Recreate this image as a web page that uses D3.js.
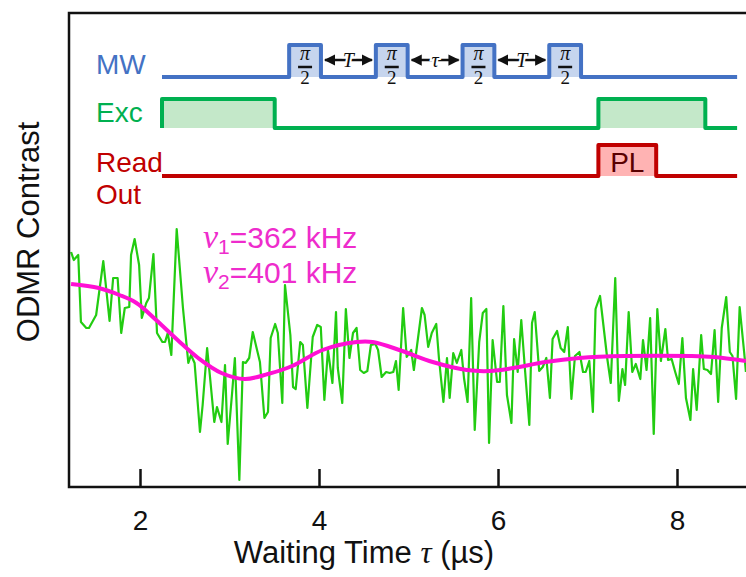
<!doctype html>
<html lang="en">
<head>
<meta charset="utf-8">
<title>Ramsey ODMR contrast</title>
<script src="https://cdn.jsdelivr.net/npm/d3@7"></script>
<style>
  body { margin: 0; background: #fff; }
  svg { display: block; font-family: "Liberation Sans", Arial, sans-serif; }
  .serif { font-family: "Liberation Serif", "DejaVu Serif", serif; }
</style>
</head>
<body>
<svg id="chart" width="746" height="577"></svg>
<script>
// measured trace (waiting time in µs, contrast in arb. units)
const waitTimes = [
  1.23, 1.26, 1.31, 1.34, 1.40, 1.43, 1.51, 1.59, 1.66, 1.70,
  1.75, 1.79, 1.83, 1.88, 1.90, 1.94, 1.99, 2.02, 2.07, 2.10,
  2.15, 2.19, 2.25, 2.28, 2.31, 2.35, 2.41, 2.48, 2.54, 2.57,
  2.61, 2.67, 2.70, 2.75, 2.78, 2.83, 2.86, 2.91, 2.95, 2.98,
  3.03, 3.06, 3.11, 3.15, 3.18, 3.22, 3.26, 3.34, 3.39, 3.43,
  3.46, 3.51, 3.54, 3.59, 3.62, 3.68, 3.71, 3.74, 3.79, 3.82,
  3.87, 3.93, 3.98, 4.02, 4.06, 4.10, 4.15, 4.19, 4.21, 4.26,
  4.30, 4.34, 4.38, 4.42, 4.46, 4.50, 4.54, 4.58, 4.63, 4.66,
  4.70, 4.75, 4.79, 4.83, 4.86, 4.89, 4.94, 4.98, 5.03, 5.06,
  5.15, 5.18, 5.22, 5.26, 5.31, 5.34, 5.39, 5.43, 5.46, 5.50,
  5.54, 5.59, 5.62, 5.66, 5.70, 5.74, 5.79, 5.83, 5.87, 5.90,
  5.94, 5.99, 6.02, 6.06, 6.10, 6.15, 6.18, 6.22, 6.26, 6.30,
  6.35, 6.38, 6.41, 6.46, 6.50, 6.54, 6.58, 6.61, 6.66, 6.70,
  6.74, 6.78, 6.82, 6.86, 6.91, 6.95, 6.98, 7.02, 7.06, 7.09,
  7.14, 7.22, 7.26, 7.31, 7.35, 7.39, 7.42, 7.46, 7.50, 7.54,
  7.59, 7.62, 7.66, 7.70, 7.74, 7.78, 7.82, 7.87, 7.90, 7.94,
  7.98, 8.02, 8.06, 8.10, 8.15, 8.18, 8.22, 8.27, 8.30, 8.34,
  8.38, 8.42, 8.46, 8.50, 8.55, 8.59, 8.62, 8.66, 8.70, 8.75,
  8.77
];
const contrast = [
  2.35, 2.27, 2.32, 1.65, 1.59, 1.59, 1.72, 2.26, 1.66, 2.09,
  2.09, 1.54, 1.79, 1.80, 2.32, 2.48, 2.22, 1.69, 1.84, 1.89,
  2.33, 1.54, 1.45, 1.45, 1.54, 1.32, 2.58, 1.79, 1.24, 1.32,
  1.24, 0.55, 0.82, 1.39, 1.12, 0.65, 0.80, 0.65, 1.22, 0.43,
  0.95, 1.29, 0.07, 1.25, 1.24, 1.29, 1.55, 1.25, 0.69, 0.75,
  1.49, 1.63, 1.54, 0.84, 2.02, 1.52, 1.00, 0.98, 1.45, 1.42,
  0.79, 1.50, 1.62, 1.60, 0.87, 1.37, 1.04, 1.75, 1.19, 0.84,
  1.78, 1.29, 1.54, 1.59, 1.17, 1.14, 1.16, 1.42, 1.43, 1.37,
  1.10, 1.15, 1.14, 1.15, 1.26, 0.97, 1.79, 1.30, 1.37, 1.17,
  1.79, 1.72, 1.40, 1.54, 1.63, 1.29, 0.85, 1.29, 0.89, 1.34,
  1.24, 1.37, 1.09, 0.85, 1.89, 0.57, 1.45, 1.74, 1.78, 0.44,
  1.47, 1.05, 1.05, 1.81, 0.92, 0.64, 1.48, 1.15, 1.67, 1.19,
  0.62, 1.64, 1.75, 1.16, 1.20, 1.29, 0.89, 1.48, 1.56, 1.39,
  1.35, 1.60, 0.88, 1.31, 1.35, 1.15, 1.15, 1.26, 0.75, 1.78,
  1.91, 1.29, 1.04, 2.09, 0.86, 1.18, 1.02, 1.75, 1.15, 1.23,
  1.08, 1.47, 1.17, 1.69, 0.53, 1.78, 1.26, 1.58, 1.27, 1.28,
  1.15, 1.03, 1.49, 0.89, 0.67, 1.18, 0.77, 1.52, 1.18, 1.17,
  1.13, 1.57, 0.85, 1.59, 1.90, 1.35, 1.31, 0.88, 1.80, 1.35,
  1.15
];

// two-frequency fit
const fitTimes = [1.23, 1.54, 1.77, 1.96, 2.18, 2.42, 2.65, 2.91, 3.17, 3.43, 3.70, 4.04, 4.42,
  4.60, 4.93, 5.27, 5.65, 5.91, 6.17, 6.53, 6.91, 7.42, 8.16, 8.41, 8.77];
const fitContrast = [2.03, 1.99, 1.92, 1.84, 1.67, 1.47, 1.29, 1.14, 1.08, 1.13, 1.21, 1.37, 1.45,
  1.45, 1.36, 1.25, 1.17, 1.16, 1.19, 1.25, 1.29, 1.31, 1.31, 1.30, 1.26];
const fitFreqs = [["1", "362 kHz"], ["2", "401 kHz"]];

const xTicks = [2, 4, 6, 8];

// pulse sequence inset, schematic time 0..100
const mwPulses = [[22, 27.5], [37, 42.5], [52, 57.5], [67, 72.5]];
const mwGapLabels = ["T", "τ", "T"];
const excPulses = [[0, 19.5], [75.5, 94]];
const readPulses = [[75.5, 85.5]];
const seqEnd = 99.5;

const svg = d3.select("#chart");
const W = 746, H = 577;
const plot = { left: 69, top: 13, bottom: 487 };

const x = d3.scaleLinear().domain([2, 8]).range([140, 677]);
const y = d3.scaleLinear().domain([0, 4.74]).range([plot.bottom, plot.top]);

svg.append("defs").append("clipPath").attr("id", "clip")
  .append("rect").attr("x", plot.left).attr("y", plot.top)
  .attr("width", W - plot.left).attr("height", plot.bottom - plot.top);

// data + fit
const trace = d3.zip(waitTimes, contrast);
const fit = d3.zip(fitTimes, fitContrast);
const g = svg.append("g").attr("clip-path", "url(#clip)");
g.append("path").datum(trace)
  .attr("fill", "none").attr("stroke", "#22cc11").attr("stroke-width", 2.2)
  .attr("stroke-linejoin", "round")
  .attr("d", d3.line().x(d => x(d[0])).y(d => y(d[1])));
g.append("path").datum(fit)
  .attr("fill", "none").attr("stroke", "#ff10d4").attr("stroke-width", 4)
  .attr("d", d3.line().curve(d3.curveCatmullRom).x(d => x(d[0])).y(d => y(d[1])));

// frame
svg.append("path")
  .attr("d", `M${W + 5},${plot.top}H${plot.left}V${plot.bottom}H${W + 5}`)
  .attr("fill", "none").attr("stroke", "#111").attr("stroke-width", 2.5);

// x axis (ticks point inwards)
const xAxis = svg.append("g").attr("transform", `translate(0,${plot.bottom})`)
  .call(d3.axisBottom(x).tickValues(xTicks).tickFormat(d3.format("d"))
    .tickSizeInner(-18).tickSizeOuter(0).tickPadding(23));
xAxis.select(".domain").remove();
xAxis.selectAll("line").attr("stroke", "#111").attr("stroke-width", 2.5);
xAxis.selectAll("text").attr("font-size", 28).attr("fill", "#111")
  .attr("font-family", '"Liberation Sans", Arial, sans-serif');

const xTitle = svg.append("text").attr("x", 364).attr("y", 563)
  .attr("text-anchor", "middle").attr("font-size", 31).attr("fill", "#111");
xTitle.append("tspan").text("Waiting Time ");
xTitle.append("tspan").attr("class", "serif").attr("font-style", "italic").text("τ");
xTitle.append("tspan").text(" (µs)");

svg.append("text").attr("transform", "translate(39,232) rotate(-90)")
  .attr("text-anchor", "middle").attr("font-size", 31).attr("fill", "#111")
  .text("ODMR Contrast");

// frequency annotation
fitFreqs.forEach(([sub, val], i) => {
  const t = svg.append("text").attr("x", 203).attr("y", 248 + i * 35)
    .attr("font-size", 30).attr("fill", "#ee2ccc");
  t.append("tspan").attr("class", "serif").attr("font-style", "italic").attr("font-size", 34).text("ν");
  t.append("tspan").attr("font-size", 21).attr("dy", 6).text(sub);
  t.append("tspan").attr("dy", -6).text("=" + val);
});

// pulse sequence
const sx = d3.scaleLinear().domain([0, 100]).range([162, 740]);
const rows = [
  { label: ["MW"], color: "#4472c4", fill: "#c6d5ee", low: 77, high: 45, pulses: mwPulses, labelY: 74 },
  { label: ["Exc"], color: "#00b050", fill: "#c4e8c9", low: 128, high: 99, pulses: excPulses, labelY: 122 },
  { label: ["Read", "Out"], color: "#c00000", fill: "#ffb3b3", low: 176, high: 145, pulses: readPulses, labelY: 172 }
];

function stepPoints(row) {
  const pts = [[0, row.low]];
  row.pulses.forEach(([s, e]) => {
    pts.push([s, row.low], [s, row.high], [e, row.high], [e, row.low]);
  });
  pts.push([seqEnd, row.low]);
  return pts;
}
const stepLine = d3.line().x(d => sx(d[0])).y(d => d[1]);

rows.forEach(row => {
  const rg = svg.append("g");
  rg.selectAll("rect").data(row.pulses).join("rect")
    .attr("x", d => sx(d[0])).attr("y", row.high)
    .attr("width", d => sx(d[1]) - sx(d[0])).attr("height", row.low - row.high)
    .attr("fill", row.fill);
  rg.append("path").datum(stepPoints(row))
    .attr("d", stepLine).attr("fill", "none")
    .attr("stroke", row.color).attr("stroke-width", 4).attr("stroke-linejoin", "round");
  row.label.forEach((s, i) => {
    rg.append("text").attr("x", 96).attr("y", row.labelY + i * 32)
      .attr("font-size", 28).attr("fill", row.color).text(s);
  });
});

// pi/2 labels
const pi = svg.append("g").attr("class", "serif").attr("text-anchor", "middle").attr("fill", "#111");
mwPulses.forEach(([s, e]) => {
  const cx = (sx(s) + sx(e)) / 2;
  pi.append("text").attr("x", cx).attr("y", 60).attr("font-size", 20).attr("font-style", "italic").text("π");
  pi.append("line").attr("x1", cx - 7).attr("x2", cx + 7).attr("y1", 67).attr("y2", 67)
    .attr("stroke", "#111").attr("stroke-width", 2.5);
  pi.append("text").attr("x", cx).attr("y", 84).attr("font-size", 19).text("2");
});

// gap arrows
const defs = svg.select("defs");
defs.append("marker").attr("id", "arr").attr("viewBox", "0 0 10 10")
  .attr("refX", 9).attr("refY", 5).attr("markerWidth", 4.5).attr("markerHeight", 4.5)
  .attr("orient", "auto-start-reverse")
  .append("path").attr("d", "M0,0L10,5L0,10z").attr("fill", "#111");
mwGapLabels.forEach((lab, i) => {
  const a = sx(mwPulses[i][1]) + 4, b = sx(mwPulses[i + 1][0]) - 4;
  svg.append("line").attr("x1", a).attr("x2", b).attr("y1", 60).attr("y2", 60)
    .attr("stroke", "#111").attr("stroke-width", 2.5)
    .attr("marker-start", "url(#arr)").attr("marker-end", "url(#arr)");
  svg.append("text").attr("class", "serif").attr("x", (a + b) / 2).attr("y", 67)
    .attr("text-anchor", "middle").attr("font-size", 20).attr("font-style", "italic")
    .attr("fill", "#111").attr("stroke", "#fff").attr("stroke-width", 4).attr("paint-order", "stroke")
    .text(lab);
});

// PL tag
readPulses.forEach(([s, e]) => {
  svg.append("text").attr("x", (sx(s) + sx(e)) / 2).attr("y", 172)
    .attr("text-anchor", "middle").attr("font-size", 28).attr("fill", "#5a0000").text("PL");
});
</script>
</body>
</html>
